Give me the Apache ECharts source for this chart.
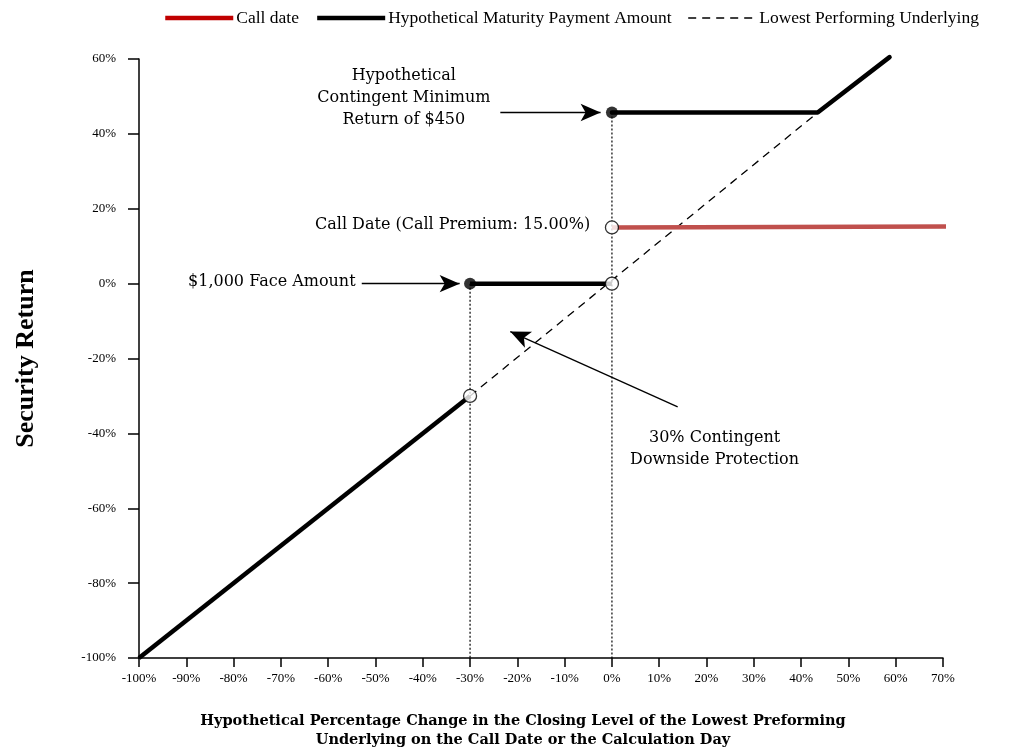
<!DOCTYPE html>
<html>
<head>
<meta charset="utf-8">
<script src="https://cdn.jsdelivr.net/npm/echarts@6/dist/echarts.min.js"></script>
<style>
  html, body { margin: 0; padding: 0; background: #fff; }
  #main { width: 1025px; height: 756px; }
</style>
</head>
<body>
<div id="main"></div>
<script>
// 軸刻度
const xTicks = { min: -100, max: 70, interval: 10 };
const yTicks = { min: -100, max: 60, interval: 20 };

// 線段資料 [x, y]
const callDateLine = [[0, 15], [82, 15.3]];
const maturityLow = [[-100, -100], [-30, -30]];
const maturityMid = [[-30, 0], [0, 0]];
const maturityHigh = [[0, 45.7], [43.5, 45.7], [58.7, 60.5]];
const lowestUnderlying = [[-30, -30], [43.5, 45.7]];
const dropLines = [
  [[-30, 0], [-30, -100]],
  [[0, 45.7], [0, -100]]
];
const filledDots = [[0, 45.7], [-30, 0]];
const openDots = [[0, 15], [0, 0], [-30, -30]];

// 註解文字與箭頭 (資料座標)
const notes = [
  { text: 'Hypothetical\nContingent Minimum\nReturn of $450', at: [-44, 49.5], align: 'center' },
  { text: 'Call Date (Call Premium: 15.00%)', at: [-4.6, 15.8], align: 'right' },
  { text: '$1,000 Face Amount', at: [-54.2, 0.6], align: 'right' },
  { text: '30% Contingent\nDownside Protection', at: [21.7, -44], align: 'center' }
];
const arrows = [
  [[-23.6, 45.7], [-2.4, 45.7]],
  [[-52.9, 0], [-32.2, 0]],
  [[13.9, -32.9], [-21.5, -12.8]]
];

const serif = '"DejaVu Serif", serif';
const times = '"Liberation Serif", serif';

const chart = echarts.init(document.getElementById('main'));

const option = {
  animation: false,
  grid: { left: 139, right: 82, top: 59, bottom: 98, containLabel: false },
  legend: {
    left: 158,
    top: 4,
    itemWidth: 68,
    itemHeight: 2,
    itemGap: 16,
    itemStyle: { opacity: 0 },
    textStyle: { fontFamily: times, fontSize: 17.5, color: '#000', padding: [0, 0, 0, -2] },
    data: [
      { name: 'Call date', lineStyle: { color: '#c00000', width: 4.5 } },
      { name: 'Hypothetical Maturity Payment Amount', lineStyle: { width: 4.5 } },
      { name: 'Lowest Performing Underlying', lineStyle: { width: 1.3 } }
    ]
  },
  xAxis: {
    type: 'value',
    min: xTicks.min,
    max: xTicks.max,
    interval: xTicks.interval,
    name: 'Hypothetical Percentage Change in the Closing Level of the Lowest Preforming\nUnderlying on the Call Date or the Calculation Day',
    nameLocation: 'middle',
    nameGap: 54,
    nameTextStyle: { fontFamily: serif, fontWeight: 'bold', fontSize: 14.5, color: '#000', lineHeight: 19, padding: [0, 36, 0, 0] },
    axisLine: { onZero: false, lineStyle: { color: '#000', width: 1.5 } },
    axisTick: { show: true, length: 9, lineStyle: { color: '#000', width: 1.5 } },
    axisLabel: { formatter: '{value}%', margin: 14, fontFamily: times, fontSize: 13, color: '#000' },
    splitLine: { show: false }
  },
  yAxis: {
    type: 'value',
    min: yTicks.min,
    max: yTicks.max,
    interval: yTicks.interval,
    name: 'Security Return',
    nameLocation: 'middle',
    nameGap: 100,
    nameTextStyle: { fontFamily: times, fontWeight: 'bold', fontSize: 26, color: '#000' },
    axisLine: { onZero: false, lineStyle: { color: '#000', width: 1.5 } },
    axisTick: { show: true, length: 11, lineStyle: { color: '#000', width: 1.5 } },
    axisLabel: { formatter: '{value}%', margin: 23, fontFamily: times, fontSize: 13, color: '#000' },
    splitLine: { show: false }
  },
  series: [
    ...dropLines.map((d) => ({
      type: 'line', data: d, symbol: 'none', silent: true, z: 1,
      lineStyle: { color: '#000', width: 1.2, type: [2, 2] }
    })),
    {
      name: 'Lowest Performing Underlying', type: 'line', data: lowestUnderlying,
      symbol: 'none', z: 2, color: '#000',
      lineStyle: { color: '#000', width: 1.3, type: [8, 6] }
    },
    {
      name: 'Call date', type: 'line', data: callDateLine, symbol: 'none', clip: false, z: 3,
      color: '#c0504d', lineStyle: { color: '#c0504d', width: 4.5 }
    },
    {
      name: 'Hypothetical Maturity Payment Amount', type: 'line', data: maturityLow,
      symbol: 'none', z: 3, color: '#000', lineStyle: { color: '#000', width: 4.5 }
    },
    {
      name: 'Hypothetical Maturity Payment Amount', type: 'line', data: maturityMid,
      symbol: 'none', z: 3, color: '#000', lineStyle: { color: '#000', width: 4.5 }
    },
    {
      name: 'Hypothetical Maturity Payment Amount', type: 'line', data: maturityHigh,
      symbol: 'none', z: 3, clip: false, color: '#000', lineStyle: { color: '#000', width: 4.5, cap: 'round' }
    },
    {
      type: 'scatter', data: filledDots, symbolSize: 12, z: 5, silent: true,
      itemStyle: { color: '#000' }
    },
    {
      type: 'scatter', data: openDots, symbolSize: 13, z: 5, silent: true,
      itemStyle: { color: '#fff', borderColor: '#000', borderWidth: 1.3 }
    },
    {
      type: 'line', data: [], silent: true, z: 6,
      markLine: {
        silent: true,
        symbol: ['none', 'arrow'],
        symbolSize: [13, 20],
        label: { show: false },
        lineStyle: { color: '#000', width: 1.3, type: 'solid' },
        data: arrows.map((a) => [{ coord: a[0] }, { coord: a[1] }])
      }
    }
  ]
};

chart.setOption(option);

// 註解文字
chart.setOption({
  graphic: notes.map((n) => {
    const p = chart.convertToPixel({ gridIndex: 0 }, n.at);
    return {
      type: 'text',
      x: p[0],
      y: p[1],
      z: 10,
      style: {
        text: n.text,
        font: '16px ' + serif,
        fill: '#000',
        align: n.align,
        verticalAlign: 'middle',
        lineHeight: 22
      }
    };
  })
});
</script>
</body>
</html>
